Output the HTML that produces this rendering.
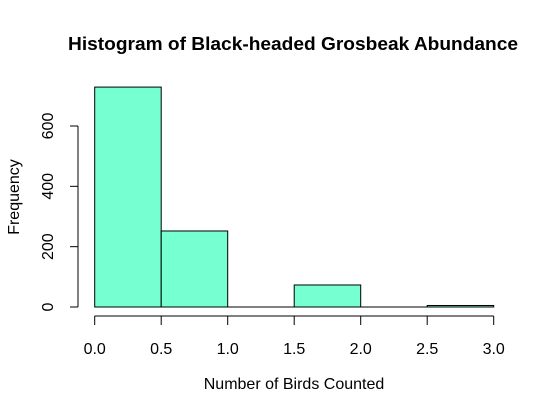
<!DOCTYPE html>
<html><head><meta charset="utf-8"><style>body{margin:0;background:#fff}svg text{font-family:"Liberation Sans",Arial,sans-serif}</style></head>
<body>
<svg id="c" width="550" height="414" xmlns="http://www.w3.org/2000/svg">
<text x="293" y="50" text-anchor="middle" font-size="18" font-weight="bold" textLength="450" lengthAdjust="spacingAndGlyphs">Histogram of Black-headed Grosbeak Abundance</text>
<text x="294" y="389" text-anchor="middle" font-size="16">Number of Birds Counted</text>
<text transform="translate(19,197) rotate(-90)" text-anchor="middle" font-size="16">Frequency</text>
<g id="bars"></g><g id="xa"></g><g id="ya"></g>
</svg>
<script>
const binEdges=[0,0.5,1,1.5,2,2.5,3];
const counts=[729,252,0,73,0,5];
const xTicks=[0,0.5,1,1.5,2,2.5,3];
const xTickLabels=["0.0","0.5","1.0","1.5","2.0","2.5","3.0"];
const yTicks=[0,200,400,600];
const NS="http://www.w3.org/2000/svg";
const X=v=>94.7+v*(493.7-94.7)/3;
const Y=v=>307-v*(307-126)/600;
function mk(t,a,p){const e=document.createElementNS(NS,t);for(const k in a)e.setAttribute(k,a[k]);p.appendChild(e);return e;}
const bars=document.getElementById('bars');
counts.forEach((c,i)=>{
 const x0=X(binEdges[i]),x1=X(binEdges[i+1]);
 let r;
 if(c>0){r=mk('rect',{x:x0,y:Y(c),width:x1-x0,height:Y(0)-Y(c),fill:'#76FFD1',stroke:'#000','stroke-width':1},bars);}
 else{r=mk('line',{x1:x0,x2:x1,y1:Y(0),y2:Y(0),stroke:'#000','stroke-width':1},bars);}
 
 
});
const xa=document.getElementById('xa');


mk('line',{x1:X(xTicks[0]),x2:X(xTicks[xTicks.length-1]),y1:316,y2:316,stroke:'#000'},xa);
xTicks.forEach((t,i)=>{
 mk('line',{x1:X(t),x2:X(t),y1:316,y2:325,stroke:'#000'},xa);
 const tx=mk('text',{x:X(t),y:354,'text-anchor':'middle','font-size':16},xa);
 tx.textContent=xTickLabels[i];
 
 
});
const ya=document.getElementById('ya');


mk('line',{x1:78,x2:78,y1:Y(yTicks[0]),y2:Y(yTicks[yTicks.length-1]),stroke:'#000'},ya);
yTicks.forEach(t=>{
 mk('line',{x1:70,x2:78,y1:Y(t),y2:Y(t),stroke:'#000'},ya);
 const tx=mk('text',{transform:`translate(53,${Y(t)}) rotate(-90)`,'text-anchor':'middle','font-size':16},ya);
 tx.textContent=String(t);
 
 
});
</script>
</body></html>
